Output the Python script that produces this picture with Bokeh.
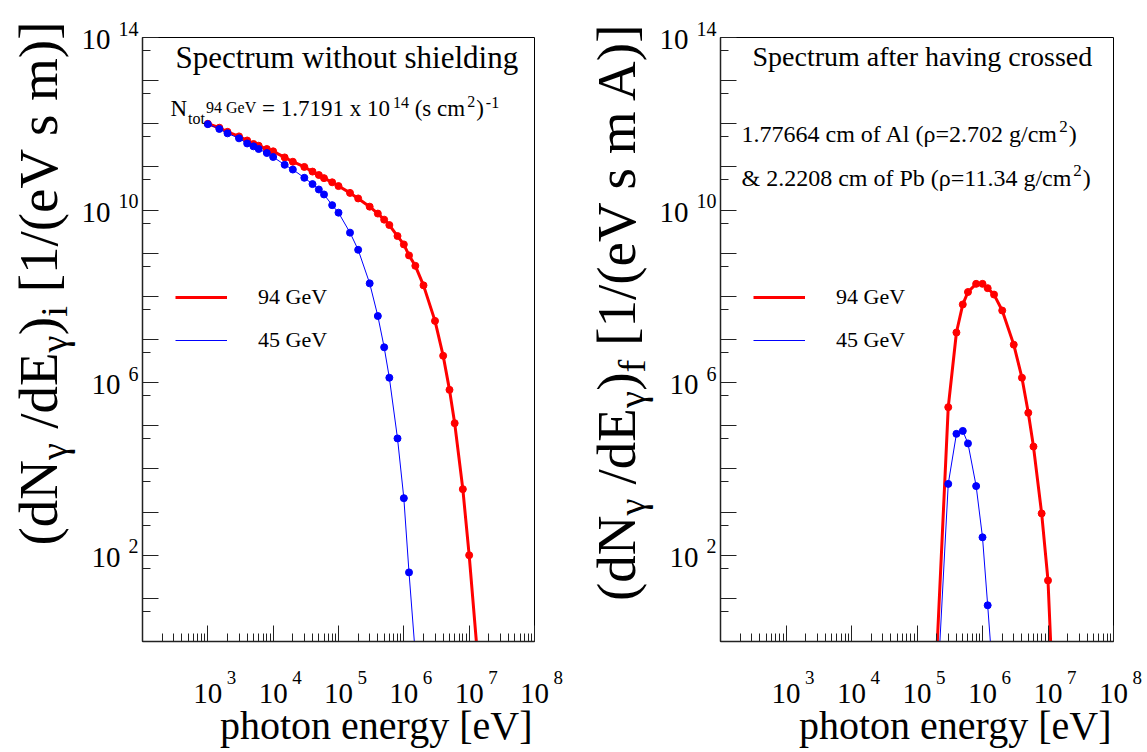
import math
from bokeh.plotting import figure
from bokeh.models import (Label, FixedTicker, Legend, LegendItem, CustomJSTickFormatter,
                          Range1d, Row, Column)
from bokeh.embed import file_html
from bokeh.resources import INLINE

FONT = "Liberation Serif"

# ---------------- data ----------------
# left panel: spectrum without shielding
e_94_i = [1e3, 1.5e3, 2e3, 3e3, 4e3, 5e3, 6e3, 8e3, 1e4, 1.5e4, 2e4, 3e4, 4e4, 5e4, 6e4, 8e4,
          1e5, 1.5e5, 2e5, 3e5, 4e5, 5e5, 6e5, 8e5, 1e6, 1.2e6, 1.5e6, 2e6, 3e6, 4e6, 5e6, 6e6,
          8e6, 1e7, 1.5e7]
n_94_i = [1.0e12, 8.1e11, 6.5e11, 5.1e11, 4.1e11, 3.4e11, 3.1e11, 2.6e11, 2.3e11, 1.66e11,
          1.32e11, 1.0e11, 7.8e10, 6.5e10, 5.5e10, 4.4e10, 3.6e10, 2.5e10, 1.86e10, 1.2e10,
          8.3e9, 6.0e9, 4.5e9, 2.5e9, 1.6e9, 8.9e8, 5.1e8, 1.8e8, 2.7e7, 4.2e6, 6.8e5, 1.15e5,
          3.4e3, 1.0e2, 6.3e-2]
e_45_i = [1e3, 1.5e3, 2e3, 3e3, 4e3, 5e3, 6e3, 8e3, 1e4, 1.5e4, 2e4, 3e4, 4e4, 5e4, 6e4, 8e4,
          1e5, 1.5e5, 2e5, 3e5, 4e5, 5e5, 6e5, 8e5, 1e6, 1.2e6, 1.5e6]
n_45_i = [9.8e11, 7.6e11, 6.0e11, 4.6e11, 3.5e11, 3.0e11, 2.6e11, 2.1e11, 1.7e11, 1.12e11,
          8.7e10, 5.6e10, 4.0e10, 3.0e10, 2.3e10, 1.3e10, 8.7e9, 3.0e9, 1.2e9, 2.0e8, 3.5e7,
          6.6e6, 1.3e6, 5.1e4, 2.1e3, 40.0, 0.5]
# right panel: spectrum after the Al + Pb shielding
e_94_f = [2e5, 3e5, 4e5, 5e5, 6e5, 8e5, 1e6, 1.2e6, 1.5e6, 2e6, 3e6, 4e6, 5e6, 6e6, 8e6, 1e7, 1.5e7]
n_94_f = [0.5, 2.7e5, 1.45e7, 6.5e7, 1.26e8, 1.95e8, 1.95e8, 1.55e8, 1.1e8, 4.7e7, 7.6e6,
          1.3e6, 2.0e5, 3.3e4, 9.3e2, 26.0, 1.6e-5]
e_45_f = [2e5, 3e5, 4e5, 5e5, 6e5, 8e5, 1e6, 1.2e6, 1.5e6]
n_45_f = [0.04, 4.5e3, 6.5e4, 7.6e4, 3.9e4, 4.0e3, 2.6e2, 6.9, 0.07]

series_labels = ["94 GeV", "45 GeV"]
x_major = [1e2, 1e3, 1e4, 1e5, 1e6, 1e7, 1e8]
x_labelled = [1e3, 1e4, 1e5, 1e6, 1e7, 1e8]
y_major = [10.0 ** k for k in range(0, 15)]
y_labelled = [1e2, 1e6, 1e10, 1e14]
X_RANGE = (1e2, 1e8)
Y_RANGE = (1.0, 1e14)

# ---------------- page geometry (pixels) ----------------
WPAGE, H = 1147, 752
FT, FB = 37, 641                 # frame top / bottom (page y)
F1 = (142, 534)                  # left panel frame x
F2 = (720, 1113)                 # right panel frame x
L1 = (0, 139)                    # left text strip of panel 1
L2 = (573, 717)                  # left text strip of panel 2
P1 = (139, 573)                  # plot canvas of panel 1
P2 = (717, 1147)                 # plot canvas of panel 2
BTOP = 651                       # top of the strip below the plots
MID = 0.34                       # baseline -> middle offset (em)

LX0, LX1 = math.log10(X_RANGE[0]), math.log10(X_RANGE[1])
LY0, LY1 = math.log10(Y_RANGE[0]), math.log10(Y_RANGE[1])


def xd(px, f):
    return 10 ** (LX0 + (LX1 - LX0) * (px - f[0]) / (f[1] - f[0]))


def xpx(v, f):
    return f[0] + (math.log10(v) - LX0) / (LX1 - LX0) * (f[1] - f[0])


def yd(py):
    return 10 ** (LY0 + (LY1 - LY0) * (FB - py) / (FB - FT))


def ypx(v):
    return FB - (math.log10(v) - LY0) / (LY1 - LY0) * (FB - FT)


# ---------------- text metrics (Times / Liberation Serif) ----------------
W = {' ': 250, '(': 333, ')': 333, '[': 333, ']': 333, '/': 278, '.': 250, ',': 250,
     '=': 564, '-': 333, '&': 778, 'γ': 450, 'ρ': 500}
for ch in "0123456789":
    W[ch] = 500
for ch, w in zip("abcdefghijklmnopqrstuvwxyz",
                 [444, 500, 444, 500, 444, 333, 500, 500, 278, 278, 500, 278, 778, 500, 500,
                  500, 500, 333, 389, 278, 500, 500, 722, 500, 500, 444]):
    W[ch] = w
for ch, w in zip("ABCDEFGHIJKLMNOPQRSTUVWXYZ",
                 [722, 667, 667, 722, 611, 556, 722, 722, 333, 389, 722, 611, 889, 722, 722,
                  556, 722, 667, 556, 611, 722, 722, 944, 722, 722, 611]):
    W[ch] = w


def tw(t, s):
    return sum(W.get(c, 500) for c in t) / 1000.0 * s


def label(p, x, y, text, size, align="left", angle=0.0):
    p.add_layout(Label(x=x, y=y, x_units="data", y_units="data", text=text,
                       text_font=FONT, text_font_size=f"{size}px", text_align=align,
                       text_baseline="middle", angle=angle, text_color="black"))


def put(p, tox, toy, px, py, text, size, align="left", vertical=False):
    """place text whose baseline starts at page pixel (px, py)"""
    if not vertical:
        label(p, tox(px), toy(py - MID * size), text, size, align)
    else:
        label(p, tox(px - MID * size), toy(py), text, size, align, angle=math.pi / 2)


def rich(p, tox, toy, segs, x0, y0, vertical=False, anchor="start"):
    """segs: (text, size, baseline shift up, extra gap before)."""
    total = sum(tw(t, s) + g for t, s, dy, g in segs)
    pos = x0 if not vertical else y0
    if anchor == "end":
        pos = pos - total if not vertical else pos + total
    for t, s, dy, g in segs:
        pos += g if not vertical else -g
        lead = tw(t[:len(t) - len(t.lstrip())], s)
        body = t.strip()
        if not vertical:
            put(p, tox, toy, pos + lead, y0 - dy, body, s)
            pos += tw(t, s)
        else:
            put(p, tox, toy, x0 - dy, pos - lead, body, s, vertical=True)
            pos -= tw(t, s)


def text_strip(x_span, y_span, x_range, y_range, y_log):
    f = figure(width=x_span[1] - x_span[0], height=y_span[1] - y_span[0],
               x_range=Range1d(*x_range), y_range=Range1d(*y_range),
               y_axis_type="log" if y_log else "linear",
               x_axis_location=None, y_axis_location=None, title=None,
               output_backend="svg", toolbar_location=None, min_border=0)
    f.xgrid.visible = False
    f.ygrid.visible = False
    f.outline_line_color = None
    f.background_fill_color = "white"
    f.border_fill_color = "white"
    return f


def make_plot(canvas, f, e94, n94, e45, n45):
    p = figure(width=canvas[1] - canvas[0], height=BTOP, x_axis_type="log", y_axis_type="log",
               x_range=Range1d(*X_RANGE), y_range=Range1d(*Y_RANGE), title=None,
               output_backend="svg", toolbar_location=None,
               min_border_left=f[0] - canvas[0], min_border_right=canvas[1] - f[1],
               min_border_top=FT, min_border_bottom=BTOP - FB)
    p.grid.visible = False
    p.outline_line_color = "black"
    p.outline_line_width = 1
    p.background_fill_color = "white"
    p.border_fill_color = "white"
    blank = CustomJSTickFormatter(code="return ''")
    xminor = [m * d for d in x_major[:-1] for m in range(2, 10)]
    yminor = [5 * d for d in y_major[:-1]]
    for ax, tk in ((p.xaxis[0], FixedTicker(ticks=x_major, minor_ticks=xminor)),
                   (p.yaxis[0], FixedTicker(ticks=y_major, minor_ticks=yminor))):
        ax.ticker = tk
        ax.formatter = blank
        ax.major_label_text_font_size = "1px"
        ax.major_label_standoff = 0
        ax.major_tick_in = 16
        ax.major_tick_out = 0
        ax.minor_tick_in = 8
        ax.minor_tick_out = 0
        ax.axis_line_color = "#222222"
        ax.axis_line_width = 1.5
        ax.major_tick_line_color = "#222222"
        ax.minor_tick_line_color = "#222222"

    r94 = p.line(e94, n94, line_color="#ff0000", line_width=3)
    p.scatter(e94, n94, size=7, fill_color="#ff0000", line_color="#ff0000")
    r45 = p.line(e45, n45, line_color="#0000ff", line_width=1)
    p.scatter(e45, n45, size=7, fill_color="#0000ff", line_color="#0000ff")

    leg = Legend(items=[LegendItem(label=series_labels[0], renderers=[r94]),
                        LegendItem(label=series_labels[1], renderers=[r45])],
                 location=(33, 288), orientation="vertical", glyph_width=52,
                 glyph_height=20, label_height=20, label_width=60, label_standoff=31,
                 spacing=17, padding=0, margin=0, border_line_alpha=0,
                 background_fill_alpha=0, label_text_font=FONT,
                 label_text_font_size="22px", label_text_color="black")
    p.add_layout(leg)
    return p


ident = lambda v: v


def left_strip(span, f):
    s = text_strip(span, (0, BTOP), span, (yd(BTOP), yd(0)), True)
    for v in y_labelled:
        exp = str(int(round(math.log10(v))))
        ty = ypx(v)
        put(s, ident, yd, f[0] - 4, ty - 2, exp, 20, align="right")
        put(s, ident, yd, f[0] - 4 - 10 * len(exp) - 8, ty + 12, "10", 29, align="right")
    return s


# ---------------- panels ----------------
plot1 = make_plot(P1, F1, e_94_i, n_94_i, e_45_i, n_45_i)
left1 = left_strip(L1, F1)
plot2 = make_plot(P2, F2, e_94_f, n_94_f, e_45_f, n_45_f)
left2 = left_strip(L2, F2)

# strip below both panels: tick labels and x titles (page pixel coordinates)
below = text_strip((0, WPAGE), (BTOP, H), (0, WPAGE), (H, BTOP), False)
for f in (F1, F2):
    for v in x_labelled:
        exp = str(int(round(math.log10(v))))
        put(below, ident, ident, xpx(v, f), 703, "10", 29, align="center")
        put(below, ident, ident, xpx(v, f) + 19, 683, exp, 19)
    put(below, ident, ident, f[1] - 2, 739, "photon energy [eV]", 40, align="right")

S = 55
SB = 0.7 * S
rich(left1, ident, yd, [("(dN", S, 0, 0), ("γ", SB, -10, 0), (" /dE", S, 0, 0), ("γ", SB, -10, 0),
                        (")", S, 0, 0), ("i", SB, -10, 0), (" [1/(eV s m)]", S, 0, 0)],
     57, 20, vertical=True, anchor="end")
rich(left2, ident, yd, [("(dN", S, 0, 0), ("γ", SB, -10, 0), (" /dE", S, 0, 0), ("γ", SB, -10, 0),
                        (")", S, 0, 0), ("f", SB, -10, 0), (" [1/(eV s m A)]", S, 0, 0)],
     635, 20, vertical=True, anchor="end")

tx1 = lambda px: xd(px, F1)
tx2 = lambda px: xd(px, F2)
put(plot1, tx1, yd, 175, 68, "Spectrum without shielding", 31)
rich(plot1, tx1, yd, [("N", 23, 0, 0), ("tot", 16, -7, 1), ("94 GeV", 16, 4, 1),
                      (" = 1.7191 x 10", 23, 0, 0), ("14", 16, 9, 3), (" (s cm", 23, 0, 0),
                      ("2", 16, 10, 2), (")", 23, 0, 1), ("-1", 16, 9, 2)], 170, 116)

put(plot2, tx2, yd, 752, 66, "Spectrum after having crossed", 28)
rich(plot2, tx2, yd, [("1.77664 cm of Al (ρ=2.702 g/cm", 24, 0, 0), ("2", 17, 10, 1),
                      (")", 24, 0, 1)], 741, 142)
rich(plot2, tx2, yd, [("& 2.2208 cm of Pb (ρ=11.34 g/cm", 24, 0, 0), ("2", 17, 10, 1),
                      (")", 24, 0, 1)], 741, 186)

top = Row(children=[left1, Column(children=[plot1], spacing=0),
                    left2, Column(children=[plot2], spacing=0)], spacing=0)
layout = Column(children=[top, below], spacing=0)
open("out.html", "w").write(file_html(layout, INLINE))
